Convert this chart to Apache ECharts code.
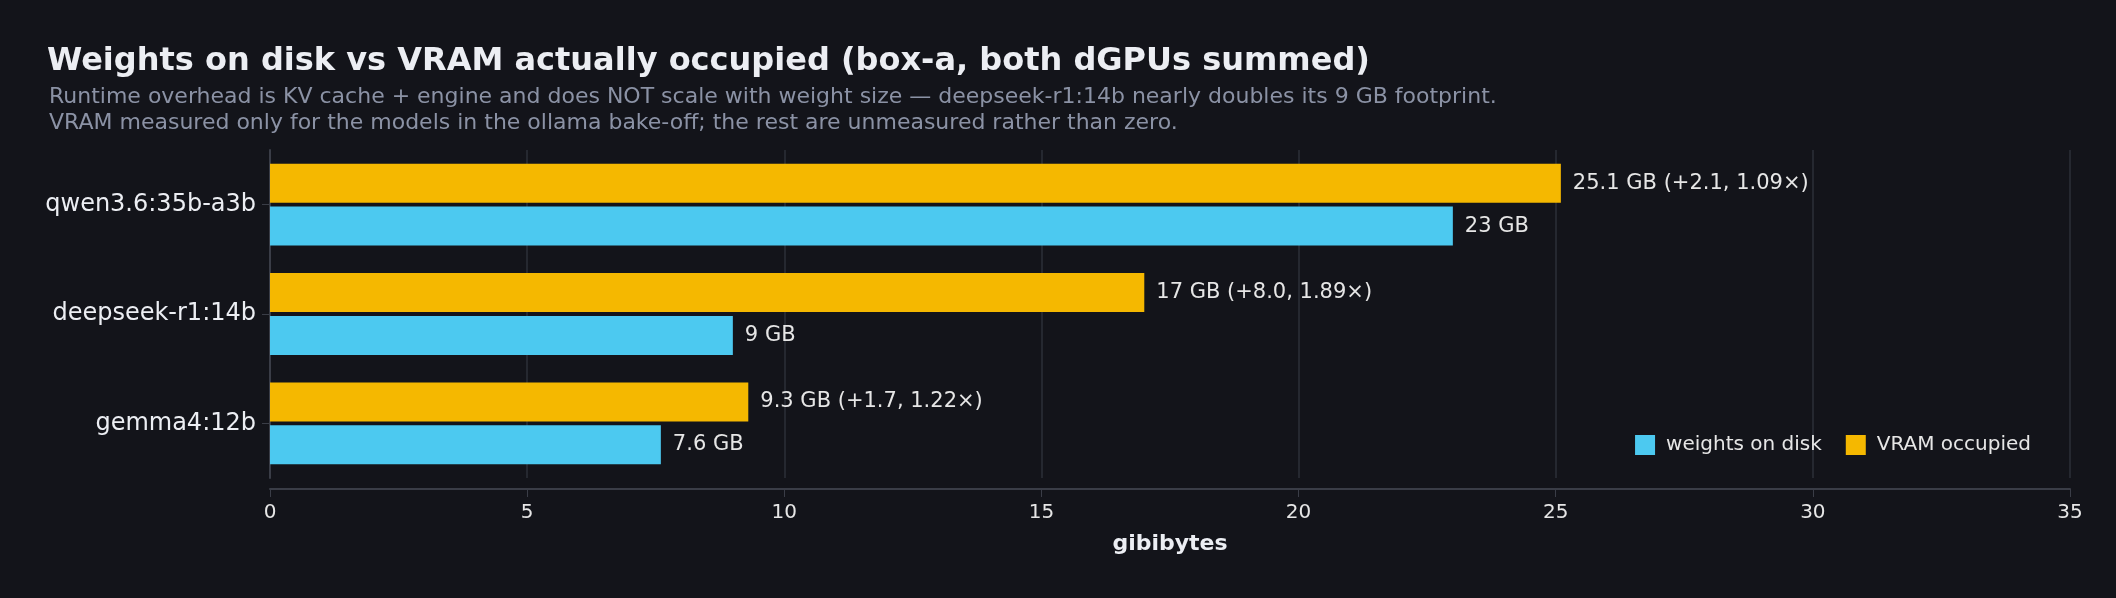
<!DOCTYPE html>
<html><head><meta charset="utf-8">
<script src="https://cdn.jsdelivr.net/npm/echarts@6/dist/echarts.min.js"></script>
<style>html,body{margin:0;background:#13141a}#c{width:2116px;height:598px}</style>
</head><body><div id="c"></div>
<script>
const categories = ['qwen3.6:35b-a3b', 'deepseek-r1:14b', 'gemma4:12b'];
const weightsOnDisk = [23, 9, 7.6];
const vramOccupied = [25.1, 17, 9.3];
const weightLabels = ['23 GB', '9 GB', '7.6 GB'];
const vramLabels = ['25.1 GB (+2.1, 1.09×)', '17 GB (+8.0, 1.89×)', '9.3 GB (+1.7, 1.22×)'];
const xTicks = [0, 5, 10, 15, 20, 25, 30, 35];

const font = 'DejaVu Sans';
const chart = echarts.init(document.getElementById('c'));
chart.setOption({
  backgroundColor: '#13141a',
  textStyle: { fontFamily: font },
  title: [
    { text: 'Weights on disk vs VRAM actually occupied (box-a, both dGPUs summed)', left: 42, top: 41,
      textStyle: { color: '#eceef3', fontSize: 32, fontWeight: 'bold', fontFamily: font } },
    { text: 'Runtime overhead is KV cache + engine and does NOT scale with weight size — deepseek-r1:14b nearly doubles its 9 GB footprint.\nVRAM measured only for the models in the ollama bake-off; the rest are unmeasured rather than zero.',
      left: 44, top: 79,
      textStyle: { color: '#8b92a5', fontSize: 22, fontWeight: 'normal', lineHeight: 26, fontFamily: font } }
  ],
  legend: {
    data: ['weights on disk', 'VRAM occupied'], right: 80, top: 430,
    itemWidth: 20, itemHeight: 20, itemGap: 24, icon: 'rect',
    textStyle: { color: '#e6e6e6', fontSize: 20, fontFamily: font, padding: [0, 0, 0, 6] }
  },
  grid: { left: 270, right: 46, top: 150, bottom: 120 },
  xAxis: {
    type: 'value', min: 0, max: 35, interval: 5, offset: 11,
    name: 'gibibytes', nameLocation: 'middle', nameGap: 44,
    nameTextStyle: { color: '#eceef3', fontSize: 22, fontWeight: 'bold', fontFamily: font },
    axisLine: { show: true, lineStyle: { color: '#3a3d47', width: 2 } },
    axisTick: { show: true, length: 8, lineStyle: { color: '#3a3d47' } },
    axisLabel: { color: '#e6e6e6', fontSize: 20, margin: 14,
      formatter: v => xTicks.includes(v) ? String(v) : '' },
    splitLine: { show: true, lineStyle: { color: '#2c2f38', width: 1.5 } }
  },
  yAxis: {
    type: 'category', data: categories, inverse: true,
    axisLine: { show: true, lineStyle: { color: '#3a3d47', width: 2 } },
    axisTick: { show: true, length: 8, alignWithLabel: true, lineStyle: { color: '#3a3d47' } },
    axisLabel: { color: '#eceef3', fontSize: 24, margin: 14 }
  },
  series: [
    { name: 'VRAM occupied', type: 'bar', data: vramOccupied, barWidth: 39, barGap: '10%',
      itemStyle: { color: '#f5b800' },
      label: { show: true, position: 'right', distance: 12, color: '#e6e6e6', fontSize: 21,
        formatter: p => vramLabels[p.dataIndex] } },
    { name: 'weights on disk', type: 'bar', data: weightsOnDisk, barWidth: 39,
      itemStyle: { color: '#4cc9f0' },
      label: { show: true, position: 'right', distance: 12, color: '#e6e6e6', fontSize: 21,
        formatter: p => weightLabels[p.dataIndex] } }
  ]
});
</script></body></html>
